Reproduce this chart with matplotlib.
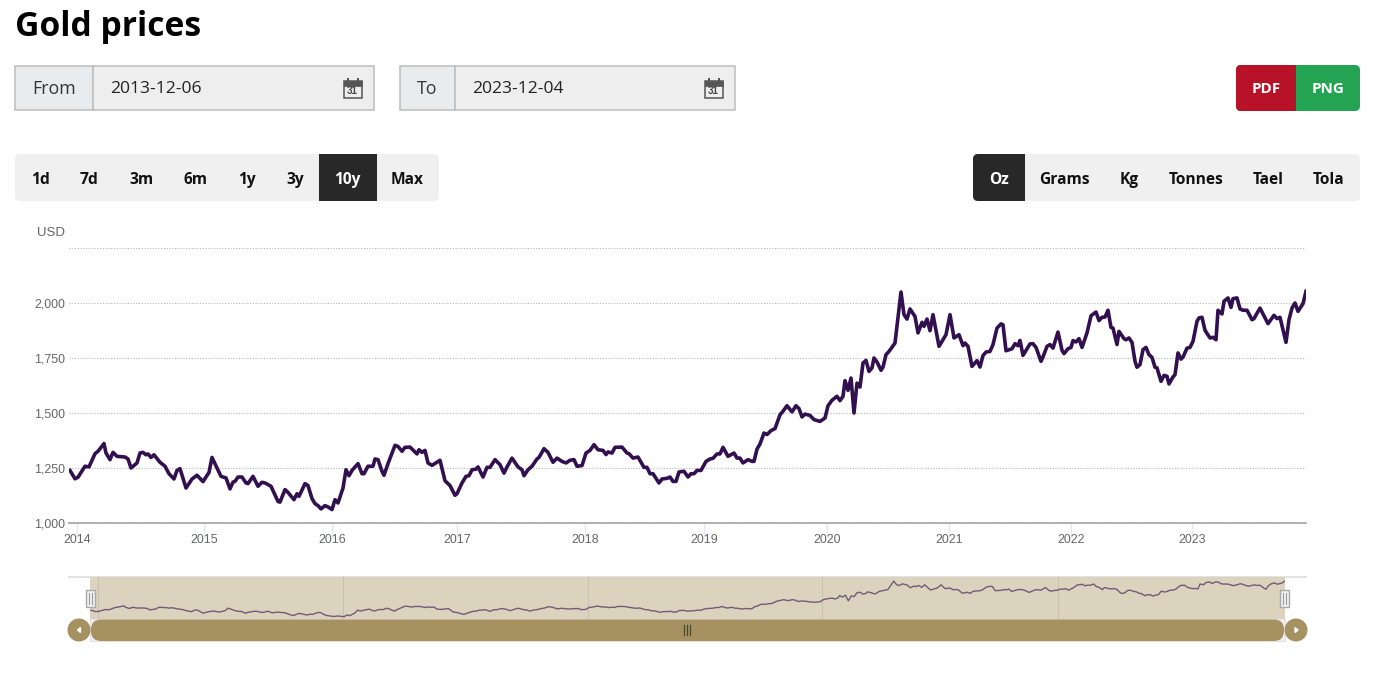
import matplotlib

matplotlib.use("Agg")
import matplotlib.pyplot as plt
from matplotlib.patches import Circle, FancyBboxPatch, Rectangle

W, H = 1379, 676

# position along the chart's category axis, and USD per oz
sample_no = [
    1, 6, 9, 16, 20, 26, 29, 35, 37, 41, 44, 48, 56, 59, 62, 68, 71, 74, 77, 79,
    82, 85, 91, 96, 100, 105, 108, 111, 117, 123, 128, 134, 140, 143, 148, 152,
    157, 161, 164, 166, 169, 173, 177, 179, 184, 189, 193, 196, 202, 209, 211,
    216, 219, 225, 228, 230, 236, 239, 243, 246, 249, 252, 256, 259, 263, 266,
    269, 274, 277, 280, 283, 289, 293, 295, 299, 304, 306, 309, 313, 315, 319,
    326, 329, 333, 336, 341, 348, 350, 353, 356, 359, 363, 371, 376, 381, 386,
    388, 393, 397, 400, 403, 407, 409, 414, 418, 421, 426,
    431, 435, 438, 443, 449, 453, 455, 459, 463, 468, 470, 475, 479, 484, 488,
    493, 497, 501, 505, 508, 513, 517, 521, 525, 529, 534, 537, 539, 543, 546,
    553, 558, 560, 564, 569, 575, 578, 581, 584, 590, 593, 598, 601, 604, 607,
    610, 615, 619, 622, 625, 628, 632, 637, 641, 644, 648, 651, 654, 659, 665,
    668, 671, 674, 679, 683, 685, 688, 691, 695, 698, 702, 706,
    711, 714, 718, 723, 727, 730,
    733, 736, 741, 745, 751, 756, 759, 763, 768, 771, 774, 776, 779, 782,
    785, 788, 791, 794, 797, 800, 803, 805, 808, 812, 814, 817, 820, 826, 828,
    832, 835, 838, 841, 846, 849, 853, 855, 858, 861, 864, 870, 877, 881, 885,
    890, 894, 896, 899, 903, 908, 911, 914, 917, 921, 924, 928, 932, 934, 937,
    943, 946, 949, 951, 954, 961, 964, 967, 972, 974, 978,
    981, 984, 989, 993, 995, 999, 1002, 1004, 1007, 1010, 1013, 1018, 1022,
    1027, 1030, 1033, 1036, 1039, 1042, 1044, 1048, 1050, 1055, 1057, 1060,
    1063, 1066, 1068, 1071, 1074, 1077, 1080, 1083, 1086, 1088, 1092, 1095,
    1098, 1100, 1104, 1106, 1109, 1112, 1114, 1118, 1121, 1124, 1128, 1130,
    1133, 1136, 1141, 1144, 1147, 1149, 1153, 1155, 1159, 1162, 1164, 1168,
    1171, 1174, 1178, 1183, 1185, 1191, 1199, 1205, 1208, 1211, 1217, 1220,
    1223, 1226, 1229, 1234, 1237,
]
price = [
    1239, 1201, 1208, 1258, 1255, 1315, 1326, 1361, 1318, 1288, 1321, 1303, 1300,
    1291, 1250, 1273, 1318, 1321, 1310, 1314, 1298, 1310, 1276, 1258, 1224, 1200,
    1239, 1247, 1159, 1200, 1217, 1188, 1230, 1298, 1250, 1212, 1205, 1155, 1186,
    1189, 1209, 1209, 1182, 1179, 1212, 1167, 1185, 1182, 1167, 1098, 1095, 1152,
    1139, 1106, 1133, 1121, 1179, 1170, 1111, 1088, 1079, 1064, 1079, 1073, 1061,
    1106, 1091, 1159, 1242, 1215, 1239, 1270, 1224, 1224, 1258, 1258, 1291, 1288,
    1235, 1217, 1270, 1353, 1348, 1326, 1344, 1345, 1314, 1333, 1321, 1330, 1273,
    1262, 1285, 1192, 1170, 1126, 1133, 1182, 1212, 1215, 1242, 1245, 1255, 1209,
    1253, 1253, 1288,
    1265, 1227, 1255, 1295, 1255, 1242, 1215, 1242, 1258, 1291, 1298, 1338, 1321,
    1276, 1295, 1280, 1273, 1285, 1288, 1258, 1261, 1318, 1330, 1356, 1333, 1330,
    1311, 1323, 1318, 1344, 1345, 1318, 1315, 1295, 1300, 1253, 1253, 1224, 1224,
    1182, 1200, 1203, 1209, 1189, 1189, 1232, 1235, 1209, 1224, 1224, 1239, 1239,
    1280, 1291, 1294, 1314, 1314, 1344, 1303, 1318, 1295, 1295, 1273, 1288, 1280,
    1280, 1336, 1359, 1409, 1402, 1420, 1429,
    1492, 1508, 1533, 1505, 1533, 1520,
    1482, 1495, 1489, 1470, 1462, 1477, 1533, 1558, 1576, 1556, 1576, 1647,
    1603, 1659, 1500, 1636, 1618, 1727, 1739, 1689, 1705, 1750, 1732, 1694, 1709,
    1765, 1780, 1818, 1894, 2050, 1947, 1927, 1973, 1939, 1864, 1912, 1894, 1927,
    1874, 1947, 1803, 1856, 1947, 1841, 1856, 1806, 1818, 1803, 1712, 1738, 1709,
    1761, 1777, 1780, 1811, 1886, 1905, 1901, 1783, 1792, 1815, 1806, 1830, 1762,
    1814, 1815, 1798, 1735, 1755, 1803,
    1811, 1795, 1868, 1785, 1770, 1792, 1798, 1829, 1823, 1838, 1798, 1864, 1942,
    1959, 1920, 1935, 1936, 1967, 1889, 1886, 1811, 1871, 1838, 1833, 1841, 1821,
    1735, 1708, 1720, 1788, 1798, 1765, 1753, 1708, 1705, 1644, 1671, 1667, 1632,
    1664, 1674, 1773, 1745, 1754, 1795, 1798, 1826, 1917, 1932, 1935, 1876, 1841,
    1844, 1833, 1967, 1950, 2008, 2023, 1980, 2020, 2023, 1973, 1967, 1967, 1924,
    1929, 1977, 1906, 1944, 1929, 1935, 1821, 1924, 1977, 2000, 1962, 1997, 2053,
]

year_labels = ["2014", "2015", "2016", "2017", "2018", "2019", "2020", "2021", "2022", "2023"]
year_ticks = [8, 135, 263, 388, 516, 635, 758, 880, 1002, 1123]
nav_ticks = [8, 262, 516, 758, 1002]
usd_ticks = [1000, 1250, 1500, 1750, 2000, 2250]
usd_labels = ["1,000", "1,250", "1,500", "1,750", "2,000", ""]

range_buttons = ["1d", "7d", "3m", "6m", "1y", "3y", "10y", "Max"]
range_centres = [40, 89.5, 141, 195.5, 247, 295, 347.5, 407]
unit_buttons = ["Oz", "Grams", "Kg", "Tonnes", "Tael", "Tola"]
unit_centres = [999, 1064, 1129, 1196, 1268, 1329]

LINE = "#32104f"
UI_FONT = "Open Sans"
CHART_FONT = "Liberation Sans"


def px_axes(fig, left, top, right, bottom):
    return fig.add_axes([left / W, 1 - bottom / H, (right - left) / W, (bottom - top) / H])


def rounded(ui, x0, y0, x1, y1, color, r=5, zorder=1):
    ui.add_patch(
        FancyBboxPatch(
            (x0 + r, y0 + r), x1 - x0 - 2 * r, y1 - y0 - 2 * r,
            boxstyle=f"round,pad={r},rounding_size={r}",
            fc=color, ec="none", zorder=zorder, clip_on=False,
        )
    )


def date_box(ui, x0, x_div, x1, label, value):
    ui.add_patch(Rectangle((x0, 66), x_div - x0, 44, fc="#e9ecef", ec="#bdbdbd", lw=1.1))
    ui.add_patch(Rectangle((x_div, 66), x1 - x_div, 44, fc="#eeeeef", ec="#bdbdbd", lw=1.1))
    ui.text((x0 + x_div) / 2, 89, label, fontsize=12.8, color="#333333", family=UI_FONT,
            ha="center", va="center")
    ui.text(x_div + 17.5, 89, value, fontsize=12.6, color="#222222", family=UI_FONT,
            ha="left", va="center")
    # calendar icon
    cx = x1 - 21.5
    ui.add_patch(Rectangle((cx - 9, 81), 18, 16.5, fc="#eeeeef", ec="#555555", lw=1.1))
    ui.add_patch(Rectangle((cx - 9, 81), 18, 4.5, fc="#555555", ec="#555555", lw=0.5))
    for dx in (-5, 5):
        ui.add_patch(Rectangle((cx + dx - 1, 78), 2, 4, fc="#555555", ec="none"))
    ui.text(cx, 91.5, "31", fontsize=7, color="#444444", family=CHART_FONT, weight="bold",
            ha="center", va="center")


def button_bar(ui, x0, x1, active_x0, active_x1, labels, centres, active):
    rounded(ui, x0, 154, x1, 201, "#f0f0f0")
    if active_x0 == x0:
        rounded(ui, active_x0, 154, active_x1, 201, "#282828")
        ui.add_patch(Rectangle((active_x1 - 8, 154), 8, 47, fc="#282828", ec="none", zorder=1))
    else:
        ui.add_patch(Rectangle((active_x0, 154), active_x1 - active_x0, 47, fc="#282828", ec="none"))
    for label, c in zip(labels, centres):
        ui.text(c, 179.5, label, fontsize=11.2, weight="bold", family=UI_FONT,
                color="white" if label == active else "#111111", ha="center", va="center")


fig = plt.figure(figsize=(W / 100, H / 100), dpi=100, facecolor="white")

# page furniture around the chart, laid out in screen pixels
ui = fig.add_axes([0, 0, 1, 1])
ui.set_xlim(0, W)
ui.set_ylim(H, 0)
ui.axis("off")

ui.text(15, 27, "Gold prices", fontsize=24.2, weight="bold", family=UI_FONT, color="black",
        ha="left", va="center")
date_box(ui, 15, 93, 374, "From", "2013-12-06")
date_box(ui, 400, 455, 735, "To", "2023-12-04")

rounded(ui, 1236, 65, 1360, 111, "#24a452")
rounded(ui, 1236, 65, 1290, 111, "#b81228")
ui.add_patch(Rectangle((1280, 65), 16, 46, fc="#b81228", ec="none", zorder=1))
ui.text(1266, 89, "PDF", fontsize=11, weight="bold", family=UI_FONT, color="white",
        ha="center", va="center", zorder=2)
ui.text(1328, 89, "PNG", fontsize=11, weight="bold", family=UI_FONT, color="white",
        ha="center", va="center", zorder=2)

button_bar(ui, 15, 439, 319, 377, range_buttons, range_centres, "10y")
button_bar(ui, 973, 1360, 973, 1025, unit_buttons, unit_centres, "Oz")

# main chart
ax = px_axes(fig, 69, 248, 1306, 523)
ax.patch.set_alpha(0)
ax.plot(sample_no, price, color=LINE, lw=2.6, solid_joinstyle="round", zorder=3)
ax.set_xlim(0, 1237)
ax.set_ylim(1000, 2250)
ax.set_yticks(usd_ticks, usd_labels, fontsize=8.9, color="#666666", family=CHART_FONT)
ax.set_xticks(year_ticks, year_labels, fontsize=8.9, color="#666666", family=CHART_FONT)
ax.tick_params(axis="y", length=0, pad=3)
ax.tick_params(axis="x", length=10, width=1, color="#e2e8f4", pad=-1.8)
ax.grid(axis="y", color="#b5b5b5", lw=0.8, ls=(0, (1, 1.5)))
for side in ["top", "left", "right"]:
    ax.spines[side].set_visible(False)
ax.spines["bottom"].set_color("#aaaaaa")
ax.spines["bottom"].set_linewidth(1.3)
ax.set_axisbelow(True)
ui.text(37, 233.5, "USD", fontsize=9.5, color="#666666", family=CHART_FONT, ha="left", va="center")

# navigator
ui.plot([69, 1306], [577, 577], color="#dddddd", lw=1.2, zorder=1)
nav = px_axes(fig, 90, 577, 1285, 619)
nav.set_facecolor("#dbd3bd")
nav.plot(sample_no, price, color="#745a78", lw=1, zorder=3)
nav.set_xlim(0, 1237)
nav.set_ylim(996, 2163)
nav.set_xticks(nav_ticks, [""] * len(nav_ticks))
nav.set_yticks([])
nav.tick_params(axis="x", length=0)
nav.grid(axis="x", color="#c8c1ad", lw=0.8)
nav.set_axisbelow(True)
for spine in nav.spines.values():
    spine.set_visible(False)

# scrollbar and handles
over = fig.add_axes([0, 0, 1, 1])
over.set_xlim(0, W)
over.set_ylim(H, 0)
over.axis("off")
over.patch.set_alpha(0)
over.add_patch(Rectangle((90, 619), 1195, 22, fc="#f0f0f0", ec="#e2e2e2", lw=0.8, zorder=1))
rounded(over, 91, 619.5, 1284, 641, "#a59260", r=10, zorder=2)
for cx, mark in [(79, [(80.5, 627.5), (80.5, 632.5), (77.5, 630)]), (1296, [(1295, 627.5), (1295, 632.5), (1298, 630)])]:
    over.add_patch(Circle((cx, 630), 11.5, fc="#a59260", ec="none", zorder=3))
    over.fill([p[0] for p in mark], [p[1] for p in mark], color="white", zorder=4)
for dx in (-3, 0, 3):
    over.plot([687 + dx, 687 + dx], [625, 635], color="#4c4630", lw=0.9, zorder=4)
for cx in (90, 1284.5):
    over.add_patch(Rectangle((cx - 4.5, 590), 9, 17, fc="#f2f2f2", ec="#a8a8a8", lw=1, zorder=5))
    for dx in (-1.5, 1.5):
        over.plot([cx + dx, cx + dx], [593, 604], color="#999999", lw=0.8, zorder=6)

fig.savefig("out.png", dpi=100)
